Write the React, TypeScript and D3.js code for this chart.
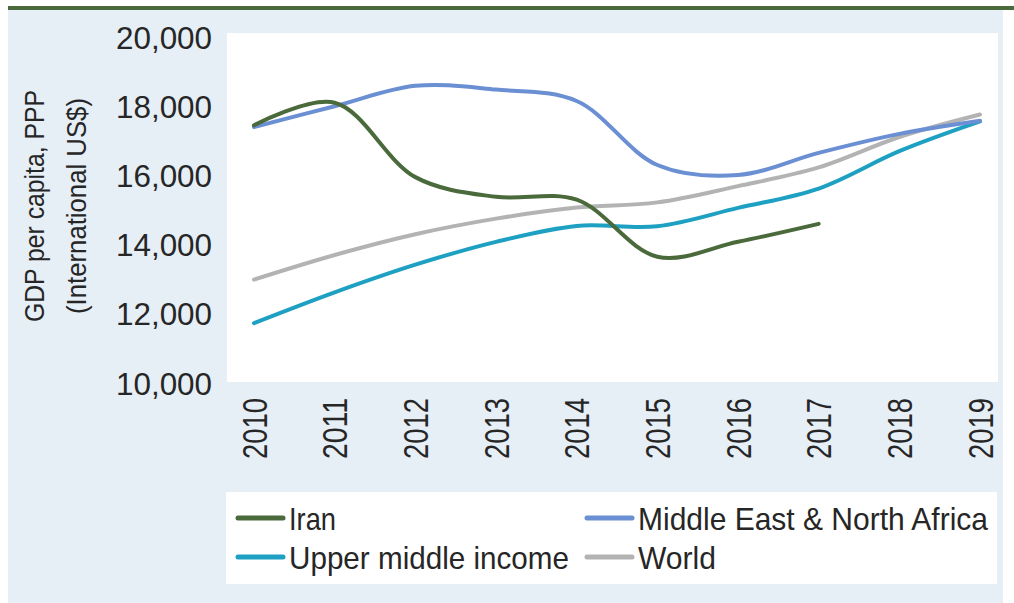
import React, { useEffect, useRef } from 'react'
import * as d3 from 'd3'

const years = ['2010', '2011', '2012', '2013', '2014', '2015', '2016', '2017', '2018', '2019']
const iran = [17450, 18100, 15950, 15380, 15300, 13650, 14080, 14600]
const mena = [17400, 18000, 18590, 18480, 18150, 16300, 16010, 16650, 17200, 17580]
const upperMiddle = [11730, 12620, 13420, 14080, 14540, 14530, 15060, 15620, 16700, 17560]
const world = [12990, 13700, 14300, 14750, 15070, 15220, 15690, 16230, 17110, 17760]
const yTicks = [10000, 12000, 14000, 16000, 18000, 20000]

const seriesNames = ['Iran', 'Middle East & North Africa', 'Upper middle income', 'World']
const seriesColors = ['#4a6a3c', '#6b8fd3', '#1ea0c2', '#b3b3b3']

function App() {
  const svgRef = useRef<SVGSVGElement>(null)

  useEffect(() => {
    const width = 1014
    const height = 603
    const svg = d3.select(svgRef.current)
    svg.selectAll('*').remove()
    svg.attr('width', width).attr('height', height)

    const font = '"Liberation Sans", Arial, sans-serif'
    const ink = '#262626'

    // background panel + top rule
    svg.append('rect').attr('x', 8).attr('y', 9).attr('width', 995).attr('height', 594).attr('fill', '#e6eef6')
    svg.append('rect').attr('x', 8).attr('y', 6).attr('width', 1006).attr('height', 4).attr('fill', '#4a6a3c')

    // plot area
    svg.append('rect').attr('x', 227).attr('y', 33).attr('width', 771).attr('height', 349).attr('fill', '#fff')

    const xScale = d3.scalePoint<string>().domain(years).range([254, 980])
    const yScale = d3.scaleLinear().domain([10000, 20000]).range([383, 37])

    // y axis labels
    const yAxis = svg.append('g')
      .attr('transform', 'translate(212,0)')
      .call(d3.axisLeft(yScale).tickValues(yTicks).tickSize(0).tickPadding(0).tickFormat(d3.format(',')))
    yAxis.select('.domain').remove()
    yAxis.selectAll('text')
      .attr('font-family', font).attr('font-size', 31).attr('fill', ink)
      .attr('dy', '0.36em')
      .attr('textLength', 96).attr('lengthAdjust', 'spacingAndGlyphs')

    // x axis labels, rotated
    svg.append('g').selectAll('text').data(years).join('text')
      .attr('transform', d => `translate(${xScale(d)},398) rotate(-90)`)
      .attr('text-anchor', 'end')
      .attr('dy', '0.36em')
      .attr('font-family', font).attr('font-size', 35).attr('fill', ink)
      .attr('textLength', 61).attr('lengthAdjust', 'spacingAndGlyphs')
      .text(d => d)

    // y axis title
    const title = svg.append('text')
      .attr('transform', 'translate(0,206) rotate(-90)')
      .attr('text-anchor', 'middle')
      .attr('font-family', font).attr('font-size', 27).attr('fill', ink)
      .attr('lengthAdjust', 'spacingAndGlyphs')
    title.append('tspan').attr('x', 0).attr('y', 44).attr('textLength', 232).attr('lengthAdjust', 'spacingAndGlyphs').text('GDP per capita, PPP')
    title.append('tspan').attr('x', 0).attr('y', 86).attr('textLength', 216).attr('lengthAdjust', 'spacingAndGlyphs').text('(International US$)')

    // lines
    const line = d3.line<number>()
      .x((d, i) => xScale(years[i]) as number)
      .y(d => yScale(d))
      .curve(d3.curveCatmullRom.alpha(0.5))

    const allSeries = [world, upperMiddle, mena, iran]
    const colorsFor = [seriesColors[3], seriesColors[2], seriesColors[1], seriesColors[0]]
    allSeries.forEach((s, k) => {
      svg.append('path')
        .datum(s)
        .attr('fill', 'none')
        .attr('stroke', colorsFor[k])
        .attr('stroke-width', 4)
        .attr('stroke-linecap', 'round')
        .attr('d', line)
    })

    // legend
    svg.append('rect').attr('x', 226).attr('y', 492).attr('width', 771).attr('height', 92).attr('fill', '#fff')
    const legendPos = [[238, 518], [587, 518], [238, 557], [587, 557]]
    const legendLen = [47, 350, 280, 78]
    seriesNames.forEach((name, i) => {
      const [lx, ly] = legendPos[i]
      svg.append('line')
        .attr('x1', lx).attr('x2', lx + 45).attr('y1', ly).attr('y2', ly)
        .attr('stroke', seriesColors[i]).attr('stroke-width', 5).attr('stroke-linecap', 'round')
      svg.append('text')
        .attr('x', lx + 51).attr('y', ly + 12)
        .attr('font-family', font).attr('font-size', 32).attr('fill', ink)
        .attr('textLength', legendLen[i]).attr('lengthAdjust', 'spacingAndGlyphs')
        .text(name)
    })
  }, [])

  return <svg ref={svgRef} style={{ position: 'absolute', left: 0, top: 0 }}></svg>
}

export default App
